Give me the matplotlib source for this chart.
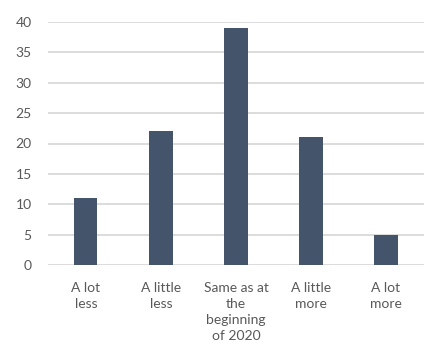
import matplotlib
matplotlib.use("Agg")
import matplotlib.pyplot as plt

categories = ["A lot\nless", "A little\nless", "Same as at\nthe\nbeginning\nof 2020",
              "A little\nmore", "A lot\nmore"]
values = [11, 22, 39, 21, 5]
yticks = [0, 5, 10, 15, 20, 25, 30, 35, 40]


def main():
    plt.rcParams["font.family"] = ["Lato", "DejaVu Sans"]
    fig = plt.figure(figsize=(4.24, 3.5), dpi=100)
    ax = fig.add_axes([0.114, 0.243, 0.885, 0.694])

    x = range(len(categories))
    ax.bar(x, values, width=0.31, color="#44546A", zorder=3)

    ax.set_ylim(0, 40)
    ax.set_xlim(-0.5, len(categories) - 0.5)
    ax.set_yticks(yticks)
    ax.set_xticks(list(x))
    ax.set_xticklabels(categories, linespacing=1.4, va="top")
    ax.yaxis.grid(True, color="#D9D9D9", linewidth=1.3, zorder=0)
    ax.tick_params(axis="both", length=0, labelsize=10, colors="#595959")
    ax.tick_params(axis="y", pad=12)
    ax.tick_params(axis="x", pad=12)
    for s in ax.spines.values():
        s.set_visible(False)

    fig.savefig("out.png", dpi=100)


if __name__ == "__main__":
    main()
